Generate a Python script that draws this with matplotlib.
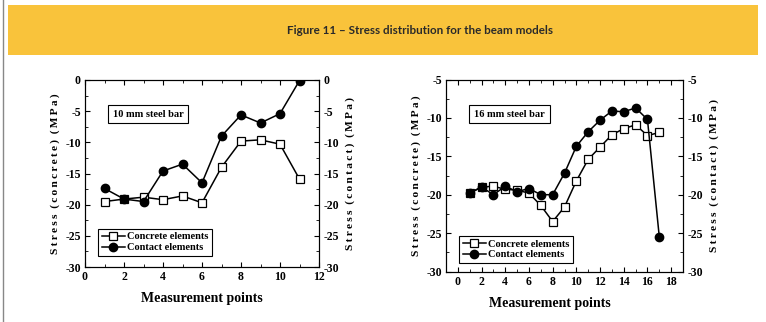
import numpy as np
import matplotlib.pyplot as plt
from matplotlib.patches import Rectangle
from matplotlib.lines import Line2D
from matplotlib.ticker import MultipleLocator

# 10 mm steel bar
pts10 = [1, 2, 3, 4, 5, 6, 7, 8, 9, 10, 11]
concrete10 = [-19.5, -19.1, -18.8, -19.2, -18.6, -19.7, -14.0, -9.8, -9.6, -10.3, -15.9]
contact10 = [-17.4, -19.1, -19.5, -14.6, -13.5, -16.5, -9.0, -5.6, -6.9, -5.4, -0.1]

# 16 mm steel bar
pts16 = [1, 2, 3, 4, 5, 6, 7, 8, 9, 10, 11, 12, 13, 14, 15, 16, 17]
concrete16 = [-19.8, -19.0, -18.9, -19.3, -19.4, -19.8, -21.4, -23.5, -21.6, -18.2,
              -15.4, -13.8, -12.2, -11.4, -10.9, -12.3, -11.9]
contact16 = [-19.8, -19.0, -20.0, -18.9, -19.6, -19.2, -20.0, -20.0, -17.2, -13.7,
             -11.8, -10.3, -9.1, -9.2, -8.7, -10.2, -25.5]

serif = 'Liberation Serif'
plt.rcParams['axes.unicode_minus'] = False


def spaced(s):
    # wide letter spacing like the original axis titles
    return '  '.join('\u2009'.join(w) for w in s.split(' '))


fig = plt.figure(figsize=(7.66, 3.22), dpi=100)

# yellow title band
fig.patches.append(Rectangle((8 / 766, 1 - 55 / 322), 750 / 766, 50 / 322,
                             transform=fig.transFigure, facecolor='#F9C33B',
                             edgecolor='none'))
fig.text(0.548, 1 - 31 / 322, 'Figure 11 \u2013 Stress distribution for the beam models',
         ha='center', va='center', fontsize=8.4, color='#2a2a2a',
         family='Lato', weight='bold')
fig.lines.append(Line2D([3 / 766, 3 / 766], [0, 1], transform=fig.transFigure,
                        color='#888888', lw=1))


def panel(rect, x, conc, cont, xlim, xmaj, ylim, label, tbox, lbox, xlab_x):
    ax = fig.add_axes(rect)
    ax2 = ax.twinx()
    l1, = ax.plot(x, conc, color='black', lw=1.1, marker='s', ms=5.5,
                  mfc='white', mec='black', mew=0.9, zorder=2)
    l2, = ax2.plot(x, cont, color='black', lw=1.1, marker='o', ms=6,
                   mfc='black', mec='black', zorder=3)
    for a in (ax, ax2):
        a.set_xlim(*xlim)
        a.set_ylim(*ylim)
        a.yaxis.set_major_locator(MultipleLocator(5))
        a.yaxis.set_minor_locator(MultipleLocator(2.5))
    ax.xaxis.set_minor_locator(MultipleLocator(1))
    ax.set_xticks(xmaj)
    for a in (ax, ax2):
        a.tick_params(which='both', direction='in', labelsize=8.5, pad=3)
        a.tick_params(which='major', length=3.5)
        a.tick_params(which='minor', length=2)
    ax.tick_params(which='both', top=True)
    for lab in ax.get_xticklabels() + ax.get_yticklabels() + ax2.get_yticklabels():
        lab.set_fontfamily(serif)
        lab.set_fontweight('bold')
    ax.set_ylabel(spaced('Stress (concrete) (MPa)'), family=serif,
                  weight='bold', fontsize=8.2, labelpad=4)
    ax2.set_ylabel(spaced('Stress (contact) (MPa)'), family=serif,
                   weight='bold', fontsize=8.2, labelpad=5)
    ax.set_xlabel('Measurement points', family=serif, weight='bold',
                  fontsize=10)
    ax.xaxis.set_label_coords(xlab_x, -0.135)
    ax2.text(tbox[0], tbox[1], label, transform=ax.transAxes, ha='center',
             va='center', family=serif, weight='bold', fontsize=7.5,
             bbox=dict(boxstyle='square,pad=0.45', fc='white', ec='black', lw=0.8))
    leg = ax2.legend([l1, l2], ['Concrete elements', 'Contact elements'],
                     loc='lower left', bbox_to_anchor=lbox, borderaxespad=0,
                     fancybox=False, edgecolor='black', framealpha=1,
                     prop=dict(family=serif, weight='bold', size=7.5),
                     handlelength=2.2, handletextpad=0.2, labelspacing=0.15,
                     borderpad=0.35)
    leg.get_frame().set_linewidth(0.8)
    return ax


panel([85 / 766, 1 - 267 / 322, 234 / 766, 187 / 322], pts10, concrete10, contact10,
      (0, 12), range(0, 13, 2), (-30, 0), '10 mm steel bar',
      (0.269, 0.818), (0.056, 0.059), 0.5)
panel([446 / 766, 1 - 271.5 / 322, 237 / 766, 192 / 322], pts16, concrete16, contact16,
      (-1, 19), range(0, 19, 2), (-30, -5), '16 mm steel bar',
      (0.268, 0.82), (0.055, 0.044), 0.44)

fig.savefig('out.png', dpi=100)
